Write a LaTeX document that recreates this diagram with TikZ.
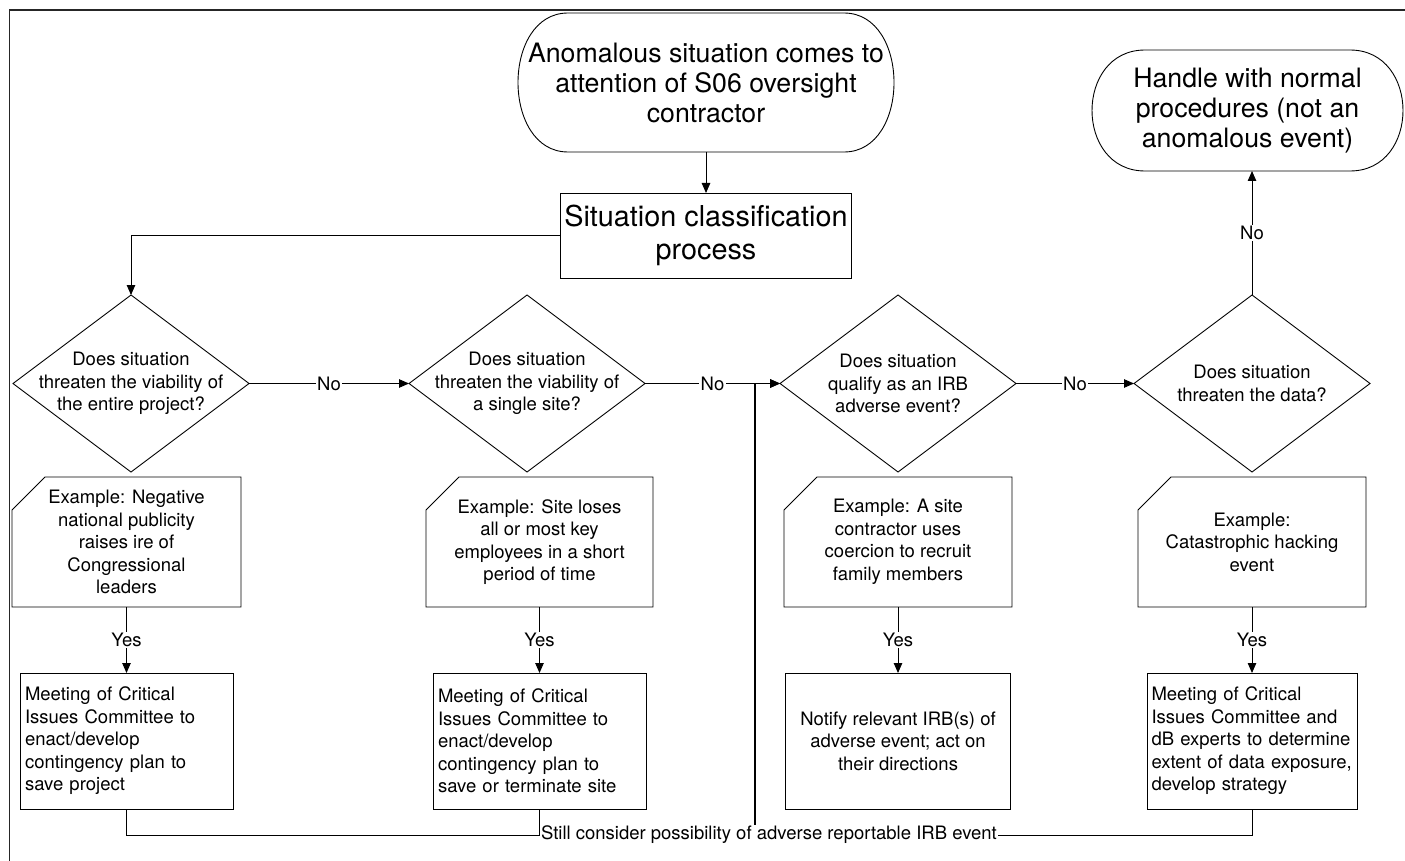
\documentclass[tikz,border=0pt]{standalone}
\usepackage{fontspec}
\setmainfont{TeX Gyre Heros}
\usetikzlibrary{shapes.geometric,arrows.meta}
\newcommand\stadiumpath[2]{% node name, horizontal radius
  \draw[ln] ([xshift=#2]#1.north west) -- ([xshift=-#2]#1.north east)
    .. controls ([xshift=#2/3]#1.north east) and ([xshift=#2/3]#1.south east) .. ([xshift=-#2]#1.south east)
    -- ([xshift=#2]#1.south west)
    .. controls ([xshift=-#2/3]#1.south west) and ([xshift=-#2/3]#1.north west) .. ([xshift=#2]#1.north west) -- cycle;}
\newcommand\cardpath[1]{%
  \draw[ln] ([xshift=33pt]#1.north west) -- (#1.north east) -- (#1.south east) -- (#1.south west) -- ([yshift=-33pt]#1.north west) -- cycle;}
\begin{document}
\begin{tikzpicture}[x=1pt,y=-1pt,
  every node/.style={inner sep=0pt,outer sep=0pt},
  ln/.style={line width=0.9pt,black},
  tip/.style={-{Triangle[length=10pt,width=8.5pt]}},
  arr/.style={ln,tip},
  big/.style={font=\fontsize{26.7}{30}\selectfont,align=center},
  cls/.style={font=\fontsize{28.8}{33}\selectfont,align=center},
  med/.style={font=\fontsize{18.5}{22.5}\selectfont},
  dia/.style={diamond,draw,ln,minimum width=236pt,minimum height=177pt},
  card/.style={med,align=center,minimum height=130pt},
  act/.style={med,draw,ln,minimum height=136pt},
  lbl/.style={med,fill=white,inner sep=1.5pt}]

\useasboundingbox (0,0) rectangle (1405,861);
\clip (0,0) rectangle (1405,861);
\draw[line width=1.3pt,black!85] (9.5,880) -- (9.5,10) -- (1420,10);

% terminators
\node[big,minimum width=376pt,minimum height=139pt] (start) at (706,82.5)
  {Anomalous situation comes to\\attention of S06 oversight\\contractor};
\stadiumpath{start}{50pt}
\node[big,minimum width=311pt,minimum height=121pt] (endt) at (1247.5,110.5)
  {Handle with normal\\procedures (not an\\anomalous event)};
\stadiumpath{endt}{53pt}

\node[cls,draw,ln,minimum width=291pt,minimum height=85pt] (cls) at (706,235.5)
  {Situation classification\\process};

% decisions
\node[dia] (d1) at (131,383.5) {};
\node[dia] (d2) at (527,383.5) {};
\node[dia] (d3) at (898,383.5) {};
\node[dia] (d4) at (1252,383.5) {};
\node[med,align=center] (d1t) at (d1) {Does situation\\threaten the viability of\\the entire project?};
\node[med,align=center] (d2t) at (d2) {Does situation\\threaten the viability of\\a single site?};
\node[med,align=center] (d3t) at (d3) {Does situation\\qualify as an IRB\\adverse event?};
\node[med,align=center] (d4t) at (d4) {Does situation\\threaten the data?};

% example cards
\node[card,minimum width=229pt] (c1) at (126.5,542) {Example: Negative\\national publicity\\raises ire of\\Congressional\\leaders};
\node[card,minimum width=227pt] (c2) at (539.5,542) {Example: Site loses\\all or most key\\employees in a short\\period of time};
\node[card,minimum width=228pt] (c3) at (898,542) {Example: A site\\contractor uses\\coercion to recruit\\family members};
\node[card,minimum width=228pt] (c4) at (1252,542) {Example:\\Catastrophic hacking\\event};
\cardpath{c1}\cardpath{c2}\cardpath{c3}\cardpath{c4}

% actions
\node[act,minimum width=213pt,text width=203pt,align=left] (b1) at (126.5,741)
  {Meeting of Critical\\Issues Committee to\\enact/develop\\contingency plan to\\save project};
\node[act,minimum width=213pt,text width=203pt,align=left] (b2) at (539.5,741)
  {Meeting of Critical\\Issues Committee to\\enact/develop\\contingency plan to\\save or terminate site};
\node[act,minimum width=225pt,align=center] (b3) at (898,741)
  {Notify relevant IRB(s) of\\adverse event; act on\\their directions};
\node[act,minimum width=210pt,text width=201pt,align=left] (b4) at (1252,741)
  {Meeting of Critical\\Issues Committee and\\dB experts to determine\\extent of data exposure,\\develop strategy};

% connectors
\draw[arr] (start.south) -- (start.south |- cls.north);
\draw[arr] (cls.west) -| (d1.north);
\draw[arr] (d1.east) -- node[lbl]{No} (d2.west);
\draw[arr] (d2.east) -- node[lbl]{No} (d3.west);
\draw[arr] (d3.east) -- node[lbl]{No} (d4.west);
\draw[arr] (d4.north) -- node[lbl]{No} (d4.north |- endt.south);

\draw[arr] (c1.south) -- node[lbl]{Yes} (b1.north);
\draw[arr] (c2.south) -- node[lbl]{Yes} (b2.north);
\draw[arr] (c3.south) -- node[lbl]{Yes} (b3.north);
\draw[arr] (c4.south) -- node[lbl]{Yes} (b4.north);

\node[lbl,anchor=west] (still) at (539.5,835) {Still consider possibility of adverse reportable IRB event};
\draw[ln] (b1.south) |- (still.west);
\draw[ln] (b2.south) -- (still.west);
\draw[ln] (b4.south) |- (still.east);
\coordinate (vx) at (755,0);
\draw[line width=1.8pt,tip] (still.north -| vx) -- (vx |- d3.west) -- (d3.west);
\end{tikzpicture}
\end{document}
